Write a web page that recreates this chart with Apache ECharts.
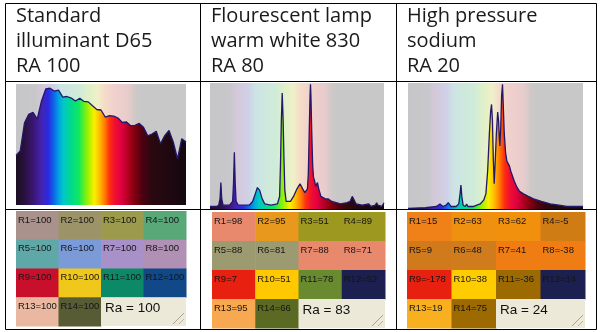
<!DOCTYPE html>
<html><head><meta charset="utf-8">
<script src="https://cdn.jsdelivr.net/npm/echarts@6/dist/echarts.min.js"></script>
<style>html,body{margin:0;padding:0;background:#fff}#c{width:600px;height:332px}</style>
</head><body><div id="c"></div>
<script>
// ---------- data ----------
const headers = ['Standard\nilluminant D65\nRA 100', 'Flourescent lamp\nwarm white 830\nRA 80', 'High pressure\nsodium\nRA 20'];

const d65Wl = [380,390,400,410,420,430,440,450,460,470,480,490,500,510,520,530,540,550,560,570,580,590,600,610,620,630,640,650,660,670,680,690,700,710,720,730,740,750,760,770,780];
const d65Val = [50.0,54.6,82.8,91.5,93.4,86.7,104.9,117.0,117.8,114.9,115.9,108.8,109.4,107.8,104.8,107.7,104.4,104.0,100.0,96.3,95.8,88.7,90.0,89.6,87.7,83.3,83.7,80.0,80.2,82.3,78.3,69.7,71.6,74.3,61.6,69.9,75.1,63.6,46.4,66.8,63.4];

const flWl = [380,395,400,403,405,407,410,425,432,434,436,438,440,445,470,478,484,489,494,500,506,520,535,540,542,544,546,548,550,552,555,565,572,580,587,593,598,604,606,608,610,611,612,614,616,618,620,623,627,630,635,645,652,660,680,695,702,707,710,716,730,745,750,760,763,766,775,780];
const flVal = [2,2,3,8,21,8,3,3,6,20,45,20,6,3,3,6,12,17,15,8,4,3,4,10,35,70,92,72,40,15,6,6,10,16,20,16,13,16,28,60,90,99,90,60,35,25,23,18,21,16,10,8,8,6,4,5,6,10,8,4,3,4,2,3,5,3,2,5];

const hpsWl = [380,420,445,453,460,467,472,478,490,496,499,501,503,506,511,514,517,530,545,553,558,562,566,569,571,573,575,577,579,582,585,587,589,590,592,594,596,598,600,603,606,609,612,615,619,623,628,635,644,655,667,685,705,725,743,760,780];
const hpsVal = [0.5,1,2,4,2,3,5,2,2,4,12,19,10,3,2,4,2,2,4,7,12,30,60,78,83,70,40,20,35,60,77,70,55,50,65,90,99,80,60,45,38,36,34,30,26,22,18,14,12,10,8,6,4,3,2,2,2];

const d65R = [100,100,100,100,100,100,100,100,100,100,100,100,100,100];
const d65Ra = 100;
const flR = [98,95,51,89,88,81,88,71,7,51,78,52,95,66];
const flRa = 83;
const hpsR = [15,63,62,-5,9,48,41,-38,-178,38,-36,14,19,75];
const hpsRa = 24;

const d65Colors = ['#a9918c','#9c9468','#9c9a4c','#58a878','#60a8a8','#7a9ad8','#a890c8','#b090b4','#c8102c','#f0c81c','#0c8a68','#104888','#eab8a0','#585c34'];
const flColors = ['#e8886c','#e8981c','#9c9820','#9c9820','#9c9a70','#9c9a70','#e8886c','#e8886c','#e82010','#ffc800','#6a8a30','#1c2050','#f8a850','#5a6a22'];
const hpsColors = ['#f08018','#f09010','#f0900c','#d07c14','#d07a1c','#d07c1c','#f07c14','#f07c14','#e82010','#ffcc00','#9c6a00','#1c2050','#f8b020','#9c6a00'];

// ---------- styles ----------
const rainbow = {type:'linear',x:0,y:0,x2:1,y2:0,colorStops:[
 {offset:0.00,color:'#1a0f1f'},{offset:0.05,color:'#2a1040'},{offset:0.10,color:'#3a1670'},
 {offset:0.15,color:'#4422b0'},{offset:0.19,color:'#2a2ae0'},{offset:0.22,color:'#1060e8'},
 {offset:0.25,color:'#00a0e0'},{offset:0.28,color:'#00c8c8'},{offset:0.32,color:'#00d890'},
 {offset:0.37,color:'#10e860'},{offset:0.40,color:'#60f020'},{offset:0.43,color:'#b0f000'},
 {offset:0.46,color:'#f8f000'},{offset:0.49,color:'#ffc000'},{offset:0.52,color:'#ff8000'},
 {offset:0.55,color:'#ff3010'},{offset:0.58,color:'#f01030'},{offset:0.62,color:'#e00040'},
 {offset:0.66,color:'#b00020'},{offset:0.70,color:'#800010'},{offset:0.74,color:'#500010'},
 {offset:0.80,color:'#2a0810'},{offset:1.00,color:'#140810'}]};
const paleBands = {type:'linear',x:0,y:0,x2:1,y2:0,colorStops:[
 {offset:0.00,color:'#c6c6c8'},{offset:0.12,color:'#c8c8cc'},{offset:0.15,color:'#d4c8d8'},
 {offset:0.22,color:'#d0d0e8'},{offset:0.26,color:'#cce4e4'},{offset:0.38,color:'#d0ecd8'},
 {offset:0.43,color:'#e0f0c8'},{offset:0.48,color:'#f0f0c8'},{offset:0.52,color:'#f4dcc8'},
 {offset:0.58,color:'#f0d0cc'},{offset:0.66,color:'#e8cccc'},{offset:0.70,color:'#d0c8c8'},
 {offset:0.73,color:'#c8c8c8'},{offset:1.00,color:'#c8c8c8'}]};

const zip = (a,b)=>a.map((x,i)=>[x,b[i]]);

const chart = echarts.init(document.getElementById('c'), null, {renderer:'canvas'});

const specGrids = [
  {left:16, top:84, width:170, height:121},
  {left:210, top:83, width:174, height:126},
  {left:408, top:83, width:175, height:126}];
const swGrids = [
  {left:16, top:211, width:170, height:115},
  {left:212, top:212, width:173, height:116},
  {left:407, top:212, width:178, height:116}];
const grids = specGrids.concat(swGrids).map(g=>Object.assign({containLabel:false}, g));
specGrids.forEach((g,i)=>{ grids[i].show = true; grids[i].backgroundColor = paleBands; grids[i].borderWidth = 0; });

const xAxes = [], yAxes = [];
const ymax = [122, 100, 100];
for (let i=0;i<3;i++){
  xAxes.push({gridIndex:i, type:'value', min:380, max:780, show:false});
  yAxes.push({gridIndex:i, type:'value', min:0, max:ymax[i], show:false});
}
for (let i=0;i<3;i++){
  xAxes.push({gridIndex:3+i, type:'category', data:['0','1','2','3'], show:false});
  yAxes.push({gridIndex:3+i, type:'category', data:['0','1','2','3'], inverse:true, show:false});
}

function specSeries(i, wl, val){
  return {type:'line', xAxisIndex:i, yAxisIndex:i, data:zip(wl,val), symbol:'none', smooth:false,
    lineStyle:{color:'#22186a', width:1.3}, areaStyle:{color:rainbow, opacity:1}, silent:true, animation:false};
}
function swatchSeries(i, rVals, colors, ra){
  const data = rVals.map((v,k)=>[k%4, Math.floor(k/4), k]);
  data.push([2,3,-1]);
  return {type:'custom', xAxisIndex:3+i, yAxisIndex:3+i, data, animation:false, silent:true,
    renderItem(params, api){
      const c=api.value(0), r=api.value(1), k=api.value(2);
      const p=api.coord([c,r]); const s=api.size([1,1]);
      const x=p[0]-s[0]/2, y=p[1]-s[1]/2, h=s[1];
      if (k<0){
        const w=2*s[0];
        return {type:'group', children:[
          {type:'rect', shape:{x,y,width:w,height:h}, style:{fill:'#ece9d8'}},
          {type:'text', x:x+4, y:y+4, style:{text:'Ra = '+ra, fill:'#111', font:'13.5px "Liberation Sans"'}},
          {type:'line', shape:{x1:x+w-13,y1:y+h-2,x2:x+w-2,y2:y+h-13}, style:{stroke:'#a8a498',lineWidth:1}},
          {type:'line', shape:{x1:x+w-7,y1:y+h-2,x2:x+w-2,y2:y+h-7}, style:{stroke:'#b8b4a8',lineWidth:1}}
        ]};
      }
      return {type:'group', children:[
        {type:'rect', shape:{x,y,width:s[0]+0.5,height:h+0.5}, style:{fill:colors[k]}},
        {type:'text', x:x+2, y:y+4, style:{text:'R'+(k+1)+'='+rVals[k], fill:'#151515', font:'9.5px "Liberation Sans"'}}
      ]};
    }};
}

const L = (x1,y1,x2,y2)=>({type:'line', shape:{x1,y1,x2,y2}, style:{stroke:'#000', lineWidth:1}, z:100, silent:true});

chart.setOption({
  animation:false,
  backgroundColor:'#fff',
  title: headers.map((t,i)=>({text:t, left:[16,211,407][i], top:4, padding:0,
    textStyle:{fontFamily:'"Open Sans"', fontSize:20, fontWeight:'normal', color:'#1a1a1a', lineHeight:25}})),
  grid: grids,
  xAxis: xAxes,
  yAxis: yAxes,
  series: [
    specSeries(0, d65Wl, d65Val),
    specSeries(1, flWl, flVal),
    specSeries(2, hpsWl, hpsVal),
    swatchSeries(0, d65R, d65Colors, d65Ra),
    swatchSeries(1, flR, flColors, flRa),
    swatchSeries(2, hpsR, hpsColors, hpsRa)
  ],
  graphic: [
    L(5.5,3.5,596.5,3.5), L(5.5,81.5,596.5,81.5), L(5.5,209.5,596.5,209.5), L(5.5,329.5,596.5,329.5),
    L(5.5,3.5,5.5,329.5), L(200.5,3.5,200.5,329.5), L(396.5,3.5,396.5,329.5), L(596.5,3.5,596.5,329.5)
  ]
});
</script></body></html>
